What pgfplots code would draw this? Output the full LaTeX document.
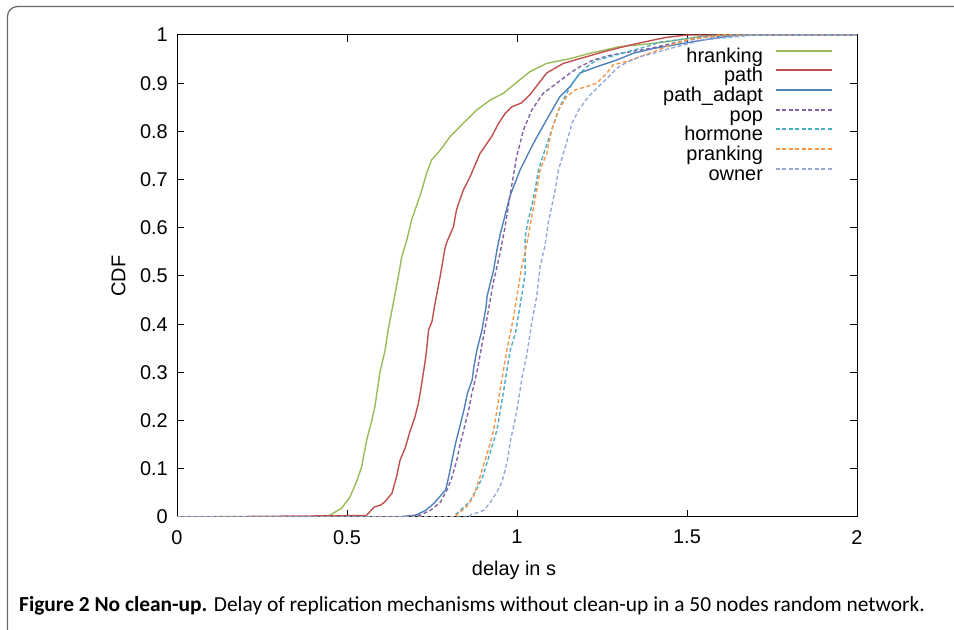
\documentclass[border=0pt]{standalone}
\usepackage{fontspec}
\setmainfont{Liberation Sans}
\newfontfamily\capfont{Carlito}
\usepackage{pgfplots}
\pgfplotsset{compat=1.18}
\definecolor{cH}{HTML}{9BBB59}
\definecolor{cP}{HTML}{C0504D}
\definecolor{cA}{HTML}{4F81BD}
\definecolor{cO}{HTML}{8064A2}
\definecolor{cM}{HTML}{4BACC6}
\definecolor{cR}{HTML}{F79646}
\definecolor{cW}{HTML}{95A8D8}
\begin{document}
\begin{tikzpicture}[x=1bp,y=1bp]
\useasboundingbox (0,0) rectangle (954,630);
\draw[line width=1.2bp, color=black!60, rounded corners=10bp] (7.5,-5) -- (7.5,623.5) -- (960,623.5);
\begin{axis}[
  at={(177bp,113bp)}, anchor=south west, scale only axis,
  width=680bp, height=482bp,
  xmin=0, xmax=2, ymin=0, ymax=1,
  xtick={0,0.5,1,1.5,2},
  ytick={0,0.1,0.2,0.3,0.4,0.5,0.6,0.7,0.8,0.9,1},
  tick align=inside, major tick length=7bp,
  axis line style={line width=1bp},
  tick style={black, line width=1bp},
  /pgf/number format/assume math mode=true,
  /pgf/number format/fixed,
  ticklabel style={font=\fontsize{20}{24}\selectfont},
  yticklabel style={inner sep=0pt, xshift=-9bp},
  xticklabel style={inner sep=0pt, yshift=-13bp},
  xlabel={delay in s}, ylabel={CDF},
  every axis x label/.style={at={(axis description cs:0.4956,-0.11)}, anchor=center, font=\fontsize{20}{24}\selectfont},
  every axis y label/.style={at={(axis description cs:-0.086,0.5)}, rotate=90, anchor=center, font=\fontsize{20}{24}\selectfont},
  legend style={at={(rel axis cs:0.9647,0.975)}, anchor=north east, draw=none, fill=none,
    inner sep=0pt, font=\fontsize{20}{24}\selectfont, row sep=0pt, column sep=12bp,
    nodes={inner sep=0pt, text height=14.8bp, text depth=4.9bp}},
  legend cell align=right, legend plot pos=right,
  legend image code/.code={\draw[line width=1.9bp,#1] (0bp,6.5bp) -- (56bp,6.5bp);},
  every axis plot/.append style={line width=1.4bp},
]
\addplot[cH] coordinates {(0,0)(0.44,0)(0.484,0.018)(0.509,0.042)(0.528,0.073)(0.543,0.104)(0.558,0.160)(0.573,0.201)(0.582,0.229)(0.597,0.301)(0.612,0.346)(0.621,0.388)(0.636,0.443)(0.651,0.499)(0.661,0.540)(0.676,0.575)(0.690,0.616)(0.707,0.651)(0.720,0.678)(0.734,0.713)(0.749,0.741)(0.774,0.761)(0.803,0.789)(0.842,0.817)(0.881,0.844)(0.921,0.865)(0.960,0.879)(0.989,0.896)(1.038,0.924)(1.087,0.941)(1.156,0.951)(1.215,0.962)(1.303,0.976)(1.381,0.981)(1.440,0.986)(1.55,0.998)(1.6,1)(2,1)};
\addlegendentry{hranking}
\addplot[cP] coordinates {(0,0)(0.556,0.003)(0.581,0.021)(0.600,0.025)(0.612,0.032)(0.632,0.049)(0.646,0.084)(0.656,0.118)(0.671,0.143)(0.685,0.177)(0.700,0.208)(0.710,0.236)(0.720,0.278)(0.729,0.319)(0.734,0.346)(0.740,0.388)(0.750,0.406)(0.759,0.443)(0.774,0.499)(0.788,0.557)(0.794,0.571)(0.813,0.602)(0.822,0.637)(0.832,0.658)(0.842,0.678)(0.862,0.706)(0.891,0.754)(0.926,0.790)(0.946,0.817)(0.966,0.838)(0.985,0.851)(1.013,0.859)(1.038,0.876)(1.087,0.921)(1.136,0.941)(1.185,0.951)(1.254,0.965)(1.332,0.979)(1.411,0.991)(1.44,0.995)(1.5,1)(2,1)};
\addlegendentry{path}
\addplot[cA] coordinates {(0,0)(0.65,0.0)(0.703,0.004)(0.732,0.014)(0.755,0.028)(0.79,0.056)(0.799,0.083)(0.809,0.118)(0.819,0.152)(0.829,0.180)(0.844,0.222)(0.854,0.256)(0.868,0.284)(0.873,0.311)(0.882,0.346)(0.897,0.388)(0.909,0.436)(0.912,0.458)(0.921,0.484)(0.931,0.512)(0.941,0.554)(0.951,0.588)(0.966,0.629)(0.979,0.665)(1.009,0.720)(1.048,0.775)(1.087,0.824)(1.126,0.872)(1.156,0.893)(1.185,0.921)(1.234,0.934)(1.293,0.948)(1.342,0.962)(1.401,0.972)(1.460,0.979)(1.55,0.99)(1.65,1)(2,1)};
\addlegendentry{path\_adapt}
\addplot[cO, dash pattern=on 4bp off 2.5bp] coordinates {(0,0)(0.66,0)(0.716,0.004)(0.746,0.014)(0.775,0.031)(0.794,0.056)(0.809,0.083)(0.823,0.118)(0.833,0.152)(0.843,0.180)(0.858,0.222)(0.867,0.256)(0.877,0.284)(0.887,0.319)(0.894,0.346)(0.901,0.373)(0.916,0.429)(0.930,0.485)(0.950,0.547)(0.965,0.602)(0.979,0.665)(0.999,0.748)(1.019,0.803)(1.043,0.844)(1.077,0.879)(1.117,0.900)(1.156,0.921)(1.185,0.934)(1.224,0.948)(1.274,0.958)(1.332,0.965)(1.391,0.972)(1.460,0.983)(1.55,0.995)(1.65,1)(2,1)};
\addlegendentry{pop}
\addplot[cM, dash pattern=on 4bp off 2.5bp] coordinates {(0,0)(0.811,0)(0.84,0.018)(0.86,0.031)(0.880,0.056)(0.899,0.083)(0.914,0.118)(0.929,0.152)(0.941,0.180)(0.951,0.222)(0.961,0.263)(0.970,0.304)(0.980,0.346)(0.995,0.380)(1.005,0.422)(1.015,0.464)(1.024,0.506)(1.024,0.582)(1.033,0.616)(1.043,0.644)(1.053,0.678)(1.063,0.720)(1.082,0.761)(1.102,0.803)(1.126,0.851)(1.151,0.886)(1.176,0.913)(1.205,0.934)(1.234,0.948)(1.274,0.955)(1.323,0.965)(1.381,0.976)(1.42,0.985)(1.55,0.997)(1.7,1)(2,1)};
\addlegendentry{hormone}
\addplot[cR, dash pattern=on 4bp off 2.5bp] coordinates {(0,0)(0.82,0)(0.822,0.004)(0.851,0.021)(0.872,0.042)(0.891,0.083)(0.906,0.118)(0.921,0.152)(0.931,0.180)(0.941,0.222)(0.950,0.263)(0.960,0.304)(0.970,0.346)(0.990,0.415)(1.004,0.477)(1.014,0.519)(1.029,0.567)(1.043,0.622)(1.058,0.678)(1.068,0.720)(1.088,0.755)(1.102,0.803)(1.122,0.844)(1.146,0.872)(1.171,0.886)(1.205,0.893)(1.234,0.900)(1.264,0.921)(1.283,0.938)(1.323,0.945)(1.362,0.955)(1.401,0.965)(1.440,0.976)(1.5,0.99)(1.6,1)(2,1)};
\addlegendentry{pranking}
\addplot[cW, dash pattern=on 4bp off 2.5bp] coordinates {(0,0)(0.86,0)(0.863,0.004)(0.903,0.014)(0.922,0.031)(0.941,0.052)(0.956,0.073)(0.971,0.114)(0.981,0.159)(0.996,0.208)(1.006,0.249)(1.015,0.291)(1.028,0.333)(1.043,0.402)(1.058,0.458)(1.068,0.520)(1.082,0.562)(1.092,0.610)(1.102,0.644)(1.112,0.678)(1.122,0.720)(1.142,0.768)(1.162,0.817)(1.181,0.844)(1.210,0.872)(1.240,0.893)(1.269,0.913)(1.299,0.934)(1.328,0.945)(1.362,0.955)(1.401,0.962)(1.450,0.972)(1.55,0.99)(1.7,1)(2,1)};
\addlegendentry{owner}
\end{axis}
\node[anchor=base west, inner sep=0pt, font=\capfont\fontsize{21.5}{24}\selectfont] at (19,18.5) {\textbf{Figure 2 No clean-up.} Delay of replication mechanisms without clean-up in a 50 nodes random network.};
\end{tikzpicture}
\end{document}
